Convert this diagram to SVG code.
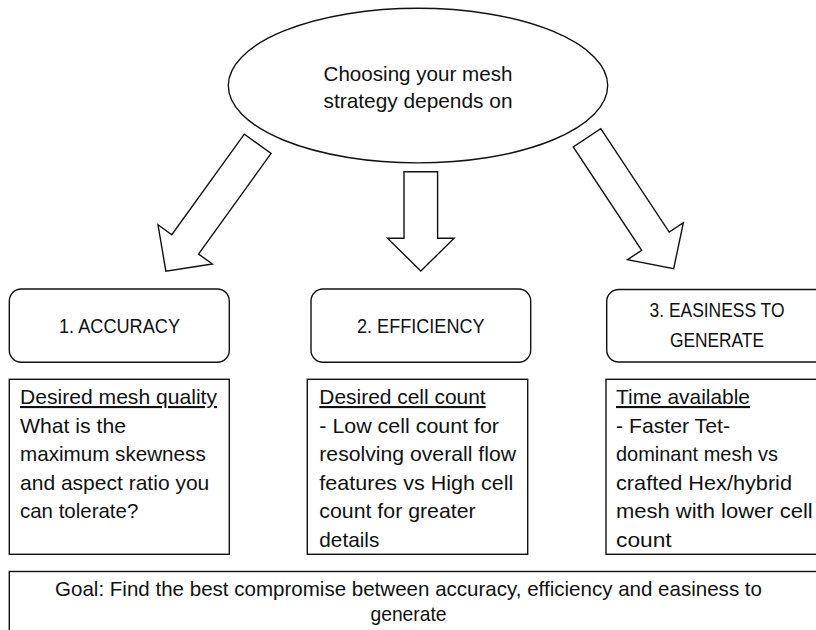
<svg xmlns="http://www.w3.org/2000/svg" width="816" height="630" viewBox="0 0 816 630">
  <style>
    .shape { fill: #ffffff; stroke: #111111; stroke-width: 1.4; }
    .txt { font-family: "Liberation Sans", Arial, sans-serif; font-size: 21px; fill: #111111; }
    .mid { text-anchor: middle; }
    .ul { text-decoration: underline; }
  </style>
  <defs>
    <!-- block arrow pointing along +x, base centred on the origin -->
    <polygon id="blockArrow" points="0,-16.5 124,-16.5 124,-33.5 157,0 124,33.5 124,16.5 0,16.5"/>
  </defs>

  <rect width="816" height="630" fill="#ffffff"/>

  <!-- central question -->
  <g id="root">
    <ellipse class="shape" cx="418" cy="85.6" rx="189.7" ry="77.3"/>
    <text class="txt mid" x="418" y="81" textLength="189" lengthAdjust="spacingAndGlyphs">Choosing your mesh</text>
    <text class="txt mid" x="418" y="108.3" textLength="189" lengthAdjust="spacingAndGlyphs">strategy depends on</text>
  </g>

  <!-- block arrows from the question to the three criteria -->
  <g id="connectors">
    <use href="#blockArrow" class="shape" transform="translate(257.7,143.8) rotate(125.8)"/>
    <polygon class="shape" points="404,171.7 437.6,171.7 437.6,238.3 454.1,238.3 420.8,271 387.5,238.3 404,238.3"/>
    <use href="#blockArrow" class="shape" transform="translate(587,137.8) rotate(56.5)"/>
  </g>

  <!-- criterion 1 -->
  <g id="accuracy">
    <rect class="shape" x="9.3" y="289" width="220" height="73.3" rx="12" ry="12"/>
    <text class="txt mid" x="119.5" y="333.3" textLength="121" lengthAdjust="spacingAndGlyphs">1. ACCURACY</text>
  </g>
  <g id="accuracy-detail">
    <rect class="shape" x="9.3" y="379.3" width="220" height="175"/>
    <text class="txt ul" x="20" y="404" textLength="197" lengthAdjust="spacingAndGlyphs">Desired mesh quality</text>
    <text class="txt" x="20" y="432.5" textLength="106" lengthAdjust="spacingAndGlyphs">What is the</text>
    <text class="txt" x="20" y="461" textLength="185.7" lengthAdjust="spacingAndGlyphs">maximum skewness</text>
    <text class="txt" x="20" y="489.5" textLength="189.3" lengthAdjust="spacingAndGlyphs">and aspect ratio you</text>
    <text class="txt" x="20" y="518" textLength="118.3" lengthAdjust="spacingAndGlyphs">can tolerate?</text>
  </g>

  <!-- criterion 2 -->
  <g id="efficiency">
    <rect class="shape" x="311" y="289" width="219.7" height="73.3" rx="12" ry="12"/>
    <text class="txt mid" x="420.8" y="333.3" textLength="127.6" lengthAdjust="spacingAndGlyphs">2. EFFICIENCY</text>
  </g>
  <g id="efficiency-detail">
    <rect class="shape" x="307.3" y="379.3" width="220.4" height="175"/>
    <text class="txt ul" x="319.3" y="404" textLength="166.4" lengthAdjust="spacingAndGlyphs">Desired cell count</text>
    <text class="txt" x="319.3" y="432.5" textLength="179.7" lengthAdjust="spacingAndGlyphs">- Low cell count for</text>
    <text class="txt" x="319.3" y="461" textLength="196.7" lengthAdjust="spacingAndGlyphs">resolving overall flow</text>
    <text class="txt" x="319.3" y="489.5" textLength="194" lengthAdjust="spacingAndGlyphs">features vs High cell</text>
    <text class="txt" x="319.3" y="518" textLength="156.4" lengthAdjust="spacingAndGlyphs">count for greater</text>
    <text class="txt" x="319.3" y="546.5" textLength="60" lengthAdjust="spacingAndGlyphs">details</text>
  </g>

  <!-- criterion 3 -->
  <g id="easiness">
    <rect class="shape" x="606.7" y="289.5" width="221" height="72.5" rx="12" ry="12"/>
    <text class="txt mid" x="717" y="317.3" textLength="135" lengthAdjust="spacingAndGlyphs">3. EASINESS TO</text>
    <text class="txt mid" x="717" y="346.7" textLength="94" lengthAdjust="spacingAndGlyphs">GENERATE</text>
  </g>
  <g id="easiness-detail">
    <rect class="shape" x="606" y="379.3" width="230" height="175"/>
    <text class="txt ul" x="616" y="404" textLength="134" lengthAdjust="spacingAndGlyphs">Time available</text>
    <text class="txt" x="616" y="432.5" textLength="114" lengthAdjust="spacingAndGlyphs">- Faster Tet-</text>
    <text class="txt" x="616" y="461" textLength="162" lengthAdjust="spacingAndGlyphs">dominant mesh vs</text>
    <text class="txt" x="616" y="489.5" textLength="176" lengthAdjust="spacingAndGlyphs">crafted Hex/hybrid</text>
    <text class="txt" x="616" y="518" textLength="196.7" lengthAdjust="spacingAndGlyphs">mesh with lower cell</text>
    <text class="txt" x="616" y="546.5" textLength="55.7" lengthAdjust="spacingAndGlyphs">count</text>
  </g>

  <!-- overall goal -->
  <g id="goal">
    <rect class="shape" x="9.3" y="571.5" width="830" height="80"/>
    <text class="txt mid" x="408.5" y="596" textLength="707" lengthAdjust="spacingAndGlyphs">Goal: Find the best compromise between accuracy, efficiency and easiness to</text>
    <text class="txt mid" x="408.5" y="621" textLength="76" lengthAdjust="spacingAndGlyphs">generate</text>
  </g>
</svg>
